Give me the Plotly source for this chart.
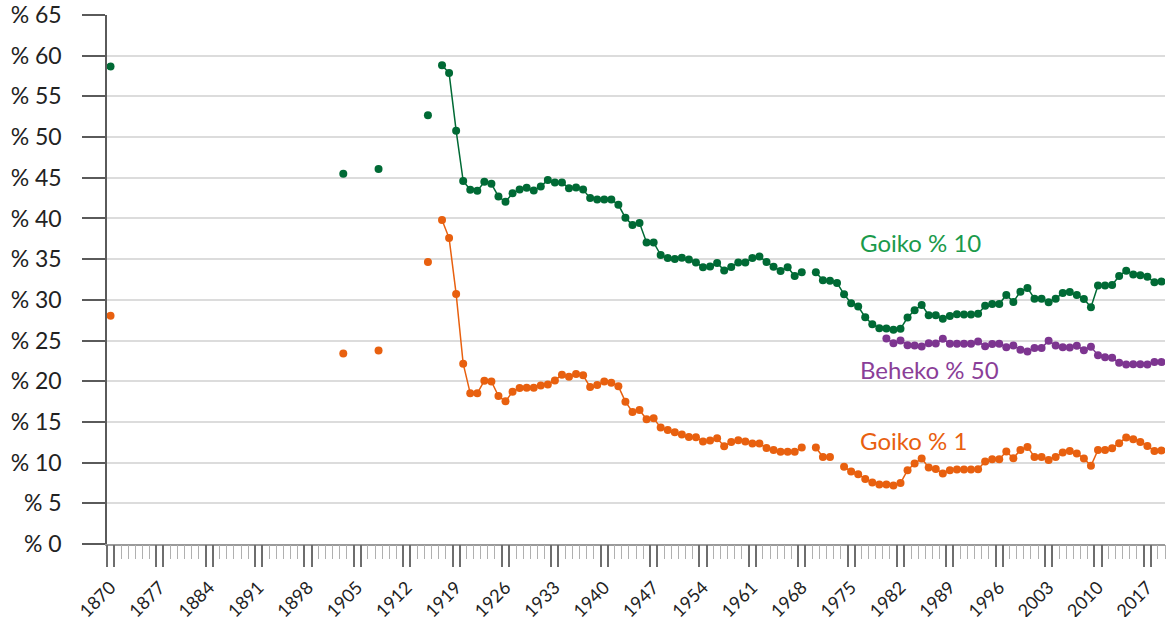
import plotly.graph_objects as go

# ---------------- data ----------------
early_years = [1870, 1903, 1908, 1915]
goiko10_early = [58.66, 45.48, 46.09, 52.67]
goiko1_early = [28.06, 23.41, 23.78, 34.65]

main_years = list(range(1917, 2020))
goiko10_main = [
    58.84, 57.86, 50.79, 44.60, 43.52, 43.39, 44.50, 44.25, 42.70, 42.05,   # 1917-1926
    43.10, 43.56, 43.76, 43.43, 43.92, 44.74, 44.41, 44.41, 43.72, 43.80,   # 1927-1936
    43.55, 42.50, 42.33, 42.33, 42.33, 41.68, 40.08, 39.19, 39.43, 37.06,   # 1937-1946
    37.06, 35.51, 35.14, 35.02, 35.18, 34.97, 34.60, 33.99, 34.11, 34.53,   # 1947-1956
    33.62, 34.04, 34.60, 34.60, 35.14, 35.34, 34.65, 34.08, 33.55, 34.00,   # 1957-1966
    32.93, 33.38, None, 33.38, 32.40, 32.36, 32.08, 30.68, 29.58, 29.17,    # 1967-1976
    27.86, 27.00, 26.51, 26.48, 26.32, 26.44, 27.83, 28.72, 29.38, 28.11,   # 1977-1986
    28.11, 27.67, 28.03, 28.23, 28.19, 28.19, 28.30, 29.28, 29.50, 29.50,   # 1987-1996
    30.60, 29.75, 31.01, 31.46, 30.15, 30.15, 29.70, 30.15, 30.85, 30.97,   # 1997-2006
    30.60, 30.11, 29.09, 31.75, 31.75, 31.83, 32.93, 33.59, 33.10, 33.01,   # 2007-2016
    32.85, 32.15, 32.24,                                                    # 2017-2019
]
goiko1_main = [
    39.80, 37.59, 30.73, 22.15, 18.51, 18.51, 20.07, 19.98, 18.18, 17.53,   # 1917-1926
    18.72, 19.16, 19.20, 19.20, 19.49, 19.61, 20.10, 20.80, 20.56, 20.88,   # 1927-1936
    20.72, 19.29, 19.53, 19.98, 19.82, 19.37, 17.49, 16.22, 16.46, 15.32,   # 1937-1946
    15.45, 14.30, 14.01, 13.73, 13.45, 13.16, 13.12, 12.59, 12.71, 12.99,   # 1947-1956
    12.01, 12.54, 12.75, 12.59, 12.34, 12.34, 11.80, 11.56, 11.34, 11.32,   # 1957-1966
    11.32, 11.85, None, 11.85, 10.70, 10.70, None, 9.48, 8.91, 8.58,        # 1967-1976
    8.00, 7.56, 7.32, 7.32, 7.20, 7.48, 9.07, 9.89, 10.50, 9.40,            # 1977-1986
    9.23, 8.66, 9.07, 9.15, 9.15, 9.15, 9.19, 10.15, 10.42, 10.42,          # 1987-1996
    11.36, 10.54, 11.56, 11.93, 10.70, 10.70, 10.33, 10.70, 11.24, 11.44,   # 1997-2006
    11.12, 10.50, 9.60, 11.56, 11.56, 11.77, 12.38, 13.08, 12.87, 12.54,    # 2007-2016
    12.05, 11.44, 11.48,                                                    # 2017-2019
]

beheko_years = list(range(1980, 2020))
beheko50 = [
    25.25, 24.68, 25.01, 24.43, 24.39, 24.27, 24.68, 24.64, 25.21, 24.60,   # 1980-1989
    24.60, 24.60, 24.60, 24.88, 24.29, 24.56, 24.60, 24.19, 24.39, 23.86,   # 1990-1999
    23.66, 24.07, 24.07, 24.97, 24.39, 24.19, 24.15, 24.35, 23.82, 24.23,   # 2000-2009
    23.20, 22.96, 22.88, 22.27, 22.06, 22.10, 22.10, 22.06, 22.35, 22.35,   # 2010-2019
]

all_years = list(range(1870, 2020))
label_years = list(range(1870, 2020, 7))
y_ticks = list(range(0, 70, 5))
y_ticktext = ["% " + str(v) for v in y_ticks]

series_labels = ["Goiko % 10", "Beheko % 50", "Goiko % 1"]
label_y = [37.0, 21.45, 12.75]

# ---------------- style ----------------
GREEN = "#006a35"
GREEN_TXT = "#1a9a4b"
ORANGE = "#e8600f"
PURPLE = "#7d3590"
PURPLE_TXT = "#8a3e98"
FONT = "Lato"

fig = go.Figure()


def add_series(xs, ys, color, mode="lines+markers"):
    fig.add_trace(go.Scatter(
        x=xs, y=ys, mode=mode,
        line=dict(color=color, width=1.5),
        marker=dict(color=color, size=8),
        connectgaps=False, showlegend=False, hoverinfo="x+y",
    ))


add_series(early_years, goiko10_early, GREEN, "markers")
add_series(early_years, goiko1_early, ORANGE, "markers")
add_series(main_years, goiko10_main, GREEN)
add_series(main_years, goiko1_main, ORANGE)
add_series(beheko_years, beheko50, PURPLE)

# invisible trace on overlay axis so it renders
fig.add_trace(go.Scatter(x=[all_years[0]], y=[0], xaxis="x2", mode="markers",
                         marker=dict(opacity=0), showlegend=False, hoverinfo="skip"))

x_range = [all_years[0] - 0.5, all_years[-1] + 0.5]
long_ticks = sorted([y - 0.5 for y in label_years] + [y + 0.5 for y in label_years])
minor_ticks = [y - 0.5 for y in all_years] + [all_years[-1] + 0.5]

fig.update_layout(
    width=1173, height=617,
    margin=dict(l=107, r=8, t=15, b=73),
    paper_bgcolor="white", plot_bgcolor="white",
    font=dict(family=FONT, color="#222222"),
    showlegend=False,
    xaxis=dict(
        range=x_range, automargin=False,
        tickmode="array", tickvals=label_years,
        ticktext=[str(y) for y in label_years],
        tickangle=-45,
        ticks="",
        ticklabelstandoff=24,
        tickfont=dict(family=FONT, size=18, color="#222222"),
        showgrid=False, zeroline=False,
        showline=True, linecolor="#9a9a9a", linewidth=2,
    ),
    xaxis2=dict(
        overlaying="x", anchor="y", side="bottom",
        range=x_range, automargin=False,
        tickmode="array", tickvals=long_ticks,
        showticklabels=False,
        ticks="outside", ticklen=22, tickcolor="#6e6e6e", tickwidth=1.5,
        minor=dict(tickmode="array", tickvals=minor_ticks, ticks="outside",
                   ticklen=14, tickcolor="#b0b0b0", tickwidth=1, showgrid=False),
        showgrid=False, zeroline=False, showline=False,
    ),
    yaxis=dict(
        range=[0, 65], automargin=False,
        tickmode="array", tickvals=y_ticks, ticktext=y_ticktext,
        ticks="outside", ticklen=23, tickcolor="#5a5a5a", tickwidth=1.5,
        ticklabelstandoff=16,
        tickfont=dict(family=FONT, size=23, color="#222222"),
        showgrid=True, gridcolor="#dcdcdc", gridwidth=2,
        zeroline=False,
        showline=True, linecolor="#5a5a5a", linewidth=1.5,
    ),
)

label_colors = [GREEN_TXT, PURPLE_TXT, ORANGE]
for txt, yv, col in zip(series_labels, label_y, label_colors):
    fig.add_annotation(x=1976.0, y=yv, text=txt, xanchor="left", yanchor="middle",
                       showarrow=False, font=dict(family=FONT, size=24, color=col))

fig.write_html(
    "out.html",
    config={"displayModeBar": False},
    post_script="document.body.style.margin='0';document.body.style.overflow='hidden';",
)
